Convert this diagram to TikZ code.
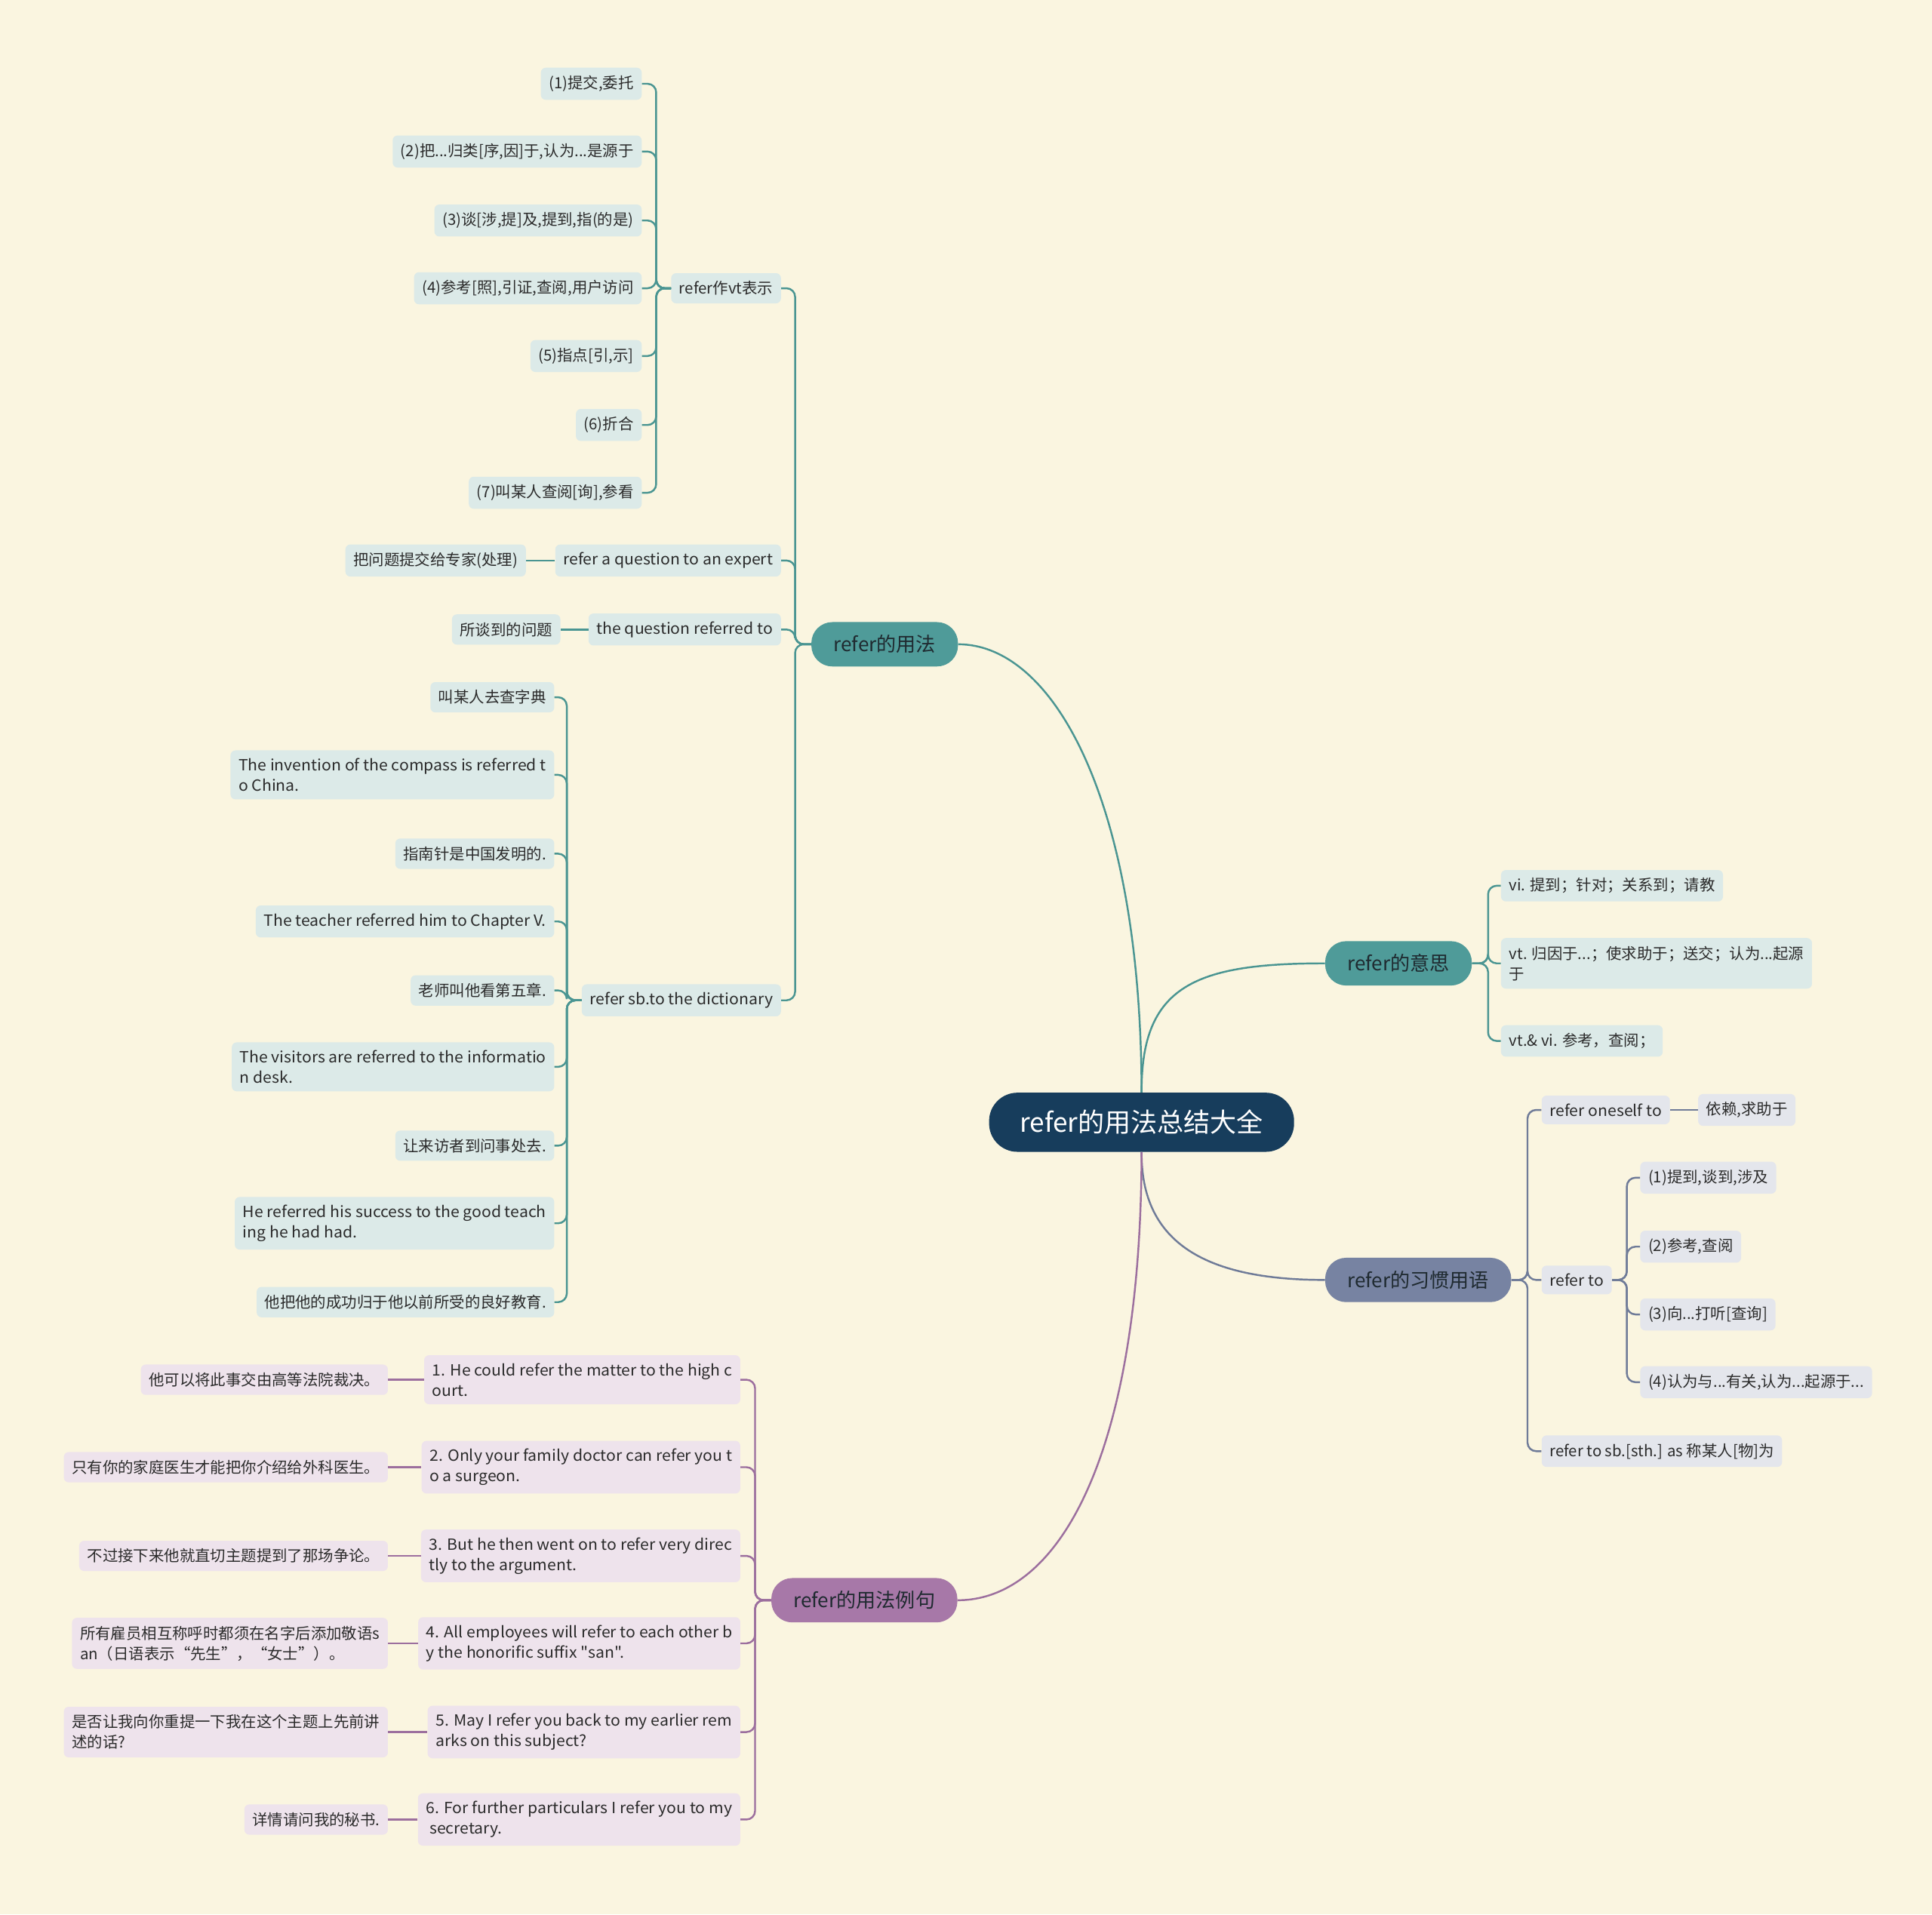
\documentclass[tikz,border=0pt]{standalone}
\usepackage{fontspec}
\setmainfont{Noto Sans CJK SC}
\newfontfamily\engfont{Noto Sans CJK SC}[FakeStretch=1.04]

\definecolor{bgcream}{HTML}{FAF5E0}
\definecolor{rootblue}{HTML}{173D5C}
\definecolor{tealmain}{HTML}{4F9B99}
\definecolor{tealline}{HTML}{4A9592}
\definecolor{teallight}{HTML}{DCEAE8}
\definecolor{slatemain}{HTML}{7783A2}
\definecolor{slateline}{HTML}{6F7B98}
\definecolor{slatelight}{HTML}{E4E6EC}
\definecolor{plummain}{HTML}{A778A8}
\definecolor{plumline}{HTML}{9C6F9E}
\definecolor{plumlight}{HTML}{EEE3EC}
\definecolor{inkdark}{HTML}{2B2B2B}
\definecolor{topicink}{HTML}{1F2A30}

\begin{document}
\begin{tikzpicture}[x=1pt, y=-1pt,
  every node/.style={text=inkdark},
  leafbox/.style={rounded corners=4pt, inner xsep=6.5pt, inner ysep=6.5pt,
    font=\fontsize{12.5}{16.5}\selectfont, align=left},
  eng/.style={font=\engfont\fontsize{12.5}{16.5}\selectfont},
  tleaf/.style={leafbox, fill=teallight},
  sleaf/.style={leafbox, fill=slatelight},
  pleaf/.style={leafbox, fill=plumlight},
  topic/.style={rounded corners=17pt, inner xsep=18pt, minimum height=36pt,
    text=topicink, font=\fontsize{16}{18}\selectfont},
  tcon/.style={draw=tealline, line width=1.5pt, rounded corners=7pt},
  scon/.style={draw=slateline, line width=1.5pt, rounded corners=7pt},
  pcon/.style={draw=plumline, line width=1.5pt, rounded corners=7pt}]
% page: 1568 x 1554 units
\fill[bgcream] (0,0) rectangle (1568,1554);

% centre and the four topics
\node[fill=rootblue, text=white, rounded corners=23pt, inner xsep=25pt,
  minimum height=48pt, font=\fontsize{21.5}{24}\selectfont] (root) at (926.5,911) {refer的用法总结大全};
\node[topic, fill=tealmain] (usage) at (718,523) {refer的用法};
\node[topic, fill=tealmain] (meaning) at (1135,782) {refer的意思};
\node[topic, fill=slatemain] (idiom) at (1151,1039) {refer的习惯用语};
\node[topic, fill=plummain] (example) at (701.5,1299) {refer的用法例句};

\draw[tcon] (root.north) .. controls (926,650) and (855,523) .. (usage.east);
\draw[tcon] (root.north) .. controls (926,800) and (970,782) .. (meaning.west);
\draw[scon] (root.south) .. controls (926,1010) and (980,1039) .. (idiom.west);
\draw[pcon] (root.south) .. controls (926,1180) and (860,1299) .. (example.east);

% refer的用法
\node[tleaf, anchor=east] (vt) at (634,234) {refer作vt表示};
\node[tleaf, eng, anchor=east] (qexp) at (634,455) {refer a question to an expert};
\node[tleaf, eng, anchor=east] (qref) at (634,511) {the question referred to};
\node[tleaf, eng, anchor=east] (dict) at (634,812) {refer sb.to the dictionary};
\foreach \n in {vt,qexp,qref,dict}
  \draw[tcon] (usage.west) -- ++(-13,0) |- (\n.east);

\node[tleaf, anchor=east] (vt1) at (521,68) {(1)提交,委托};
\node[tleaf, anchor=east] (vt2) at (521,123) {(2)把...归类[序,因]于,认为...是源于};
\node[tleaf, anchor=east] (vt3) at (521,179) {(3)谈[涉,提]及,提到,指(的是)};
\node[tleaf, anchor=east] (vt4) at (521,234) {(4)参考[照],引证,查阅,用户访问};
\node[tleaf, anchor=east] (vt5) at (521,289) {(5)指点[引,示]};
\node[tleaf, anchor=east] (vt6) at (521,345) {(6)折合};
\node[tleaf, anchor=east] (vt7) at (521,400) {(7)叫某人查阅[询],参看};
\foreach \n in {vt1,vt2,vt3,vt4,vt5,vt6,vt7}
  \draw[tcon] (vt.west) -- ++(-12,0) |- (\n.east);

\node[tleaf, anchor=east] (qexpzh) at (427,455) {把问题提交给专家(处理)};
\node[tleaf, anchor=east] (qrefzh) at (455,511) {所谈到的问题};
\draw[tcon] (qexp.west) -- (qexpzh.east);
\draw[tcon] (qref.west) -- (qrefzh.east);

\node[tleaf, anchor=east] (d1) at (450,566) {叫某人去查字典};
\node[tleaf, eng, anchor=east] (d2) at (450,629) {The invention of the compass is referred t\\o China.};
\node[tleaf, anchor=east] (d3) at (450,693) {指南针是中国发明的.};
\node[tleaf, eng, anchor=east] (d4) at (450,748) {The teacher referred him to Chapter V.};
\node[tleaf, anchor=east] (d5) at (450,804) {老师叫他看第五章.};
\node[tleaf, eng, anchor=east] (d6) at (450,866) {The visitors are referred to the informatio\\n desk.};
\node[tleaf, anchor=east] (d7) at (450,930) {让来访者到问事处去.};
\node[tleaf, eng, anchor=east] (d8) at (450,993) {He referred his success to the good teach\\ing he had had.};
\node[tleaf, anchor=east] (d9) at (450,1057) {他把他的成功归于他以前所受的良好教育.};
\foreach \n in {d1,d2,d3,d4,d5,d6,d7,d8,d9}
  \draw[tcon] (dict.west) -- ++(-12,0) |- (\n.east);

% refer的意思
\node[tleaf, anchor=west] (mean1) at (1218,719) {vi. 提到；针对；关系到；请教};
\node[tleaf, anchor=west] (mean2) at (1218,782) {vt. 归因于...；使求助于；送交；认为...起源\\于};
\node[tleaf, anchor=west] (mean3) at (1218,845) {vt.\& vi. 参考，查阅；};
\foreach \n in {mean1,mean2,mean3}
  \draw[tcon] (meaning.east) -- ++(13,0) |- (\n.west);

% refer的习惯用语
\node[sleaf, eng, anchor=west] (oneself) at (1251,901) {refer oneself to};
\node[sleaf, anchor=west] (oneselfzh) at (1378,901) {依赖,求助于};
\node[sleaf, eng, anchor=west] (referto) at (1251,1039) {refer to};
\node[sleaf, anchor=west] (referas) at (1251,1178) {refer to sb.[sth.] as 称某人[物]为};
\foreach \n in {oneself,referto,referas}
  \draw[scon] (idiom.east) -- ++(13,0) |- (\n.west);
\draw[scon] (oneself.east) -- (oneselfzh.west);

\node[sleaf, anchor=west] (rt1) at (1331,956) {(1)提到,谈到,涉及};
\node[sleaf, anchor=west] (rt2) at (1331,1012) {(2)参考,查阅};
\node[sleaf, anchor=west] (rt3) at (1331,1067) {(3)向...打听[查询]};
\node[sleaf, anchor=west] (rt4) at (1331,1122) {(4)认为与...有关,认为...起源于...};
\foreach \n in {rt1,rt2,rt3,rt4}
  \draw[scon] (referto.east) -- ++(12,0) |- (\n.west);

% refer的用法例句
\node[pleaf, eng, anchor=east] (ex1) at (601,1120) {1. He could refer the matter to the high c\\ourt.};
\node[pleaf, eng, anchor=east] (ex2) at (601,1191) {2. Only your family doctor can refer you t\\o a surgeon.};
\node[pleaf, eng, anchor=east] (ex3) at (601,1263) {3. But he then went on to refer very direc\\tly to the argument.};
\node[pleaf, eng, anchor=east] (ex4) at (601,1334) {4. All employees will refer to each other b\\y the honorific suffix \symbol{34}san\symbol{34}.};
\node[pleaf, eng, anchor=east] (ex5) at (601,1406) {5. May I refer you back to my earlier rem\\arks on this subject?};
\node[pleaf, eng, anchor=east] (ex6) at (601,1477) {6. For further particulars I refer you to my\\\ secretary.};
\foreach \n in {ex1,ex2,ex3,ex4,ex5,ex6}
  \draw[pcon] (example.west) -- ++(-13,0) |- (\n.east);

\node[pleaf, anchor=east] (exzh1) at (315,1120) {他可以将此事交由高等法院裁决。};
\node[pleaf, anchor=east] (exzh2) at (315,1191) {只有你的家庭医生才能把你介绍给外科医生。};
\node[pleaf, anchor=east] (exzh3) at (315,1263) {不过接下来他就直切主题提到了那场争论。};
\node[pleaf, anchor=east] (exzh4) at (315,1334) {所有雇员相互称呼时都须在名字后添加敬语s\\an（日语表示“先生”，“女士”）。};
\node[pleaf, anchor=east] (exzh5) at (315,1406) {是否让我向你重提一下我在这个主题上先前讲\\述的话?};
\node[pleaf, anchor=east] (exzh6) at (315,1477) {详情请问我的秘书.};
\foreach \n in {1,...,6}
  \draw[pcon] (ex\n.west) -- (exzh\n.east);
\end{tikzpicture}
\end{document}
